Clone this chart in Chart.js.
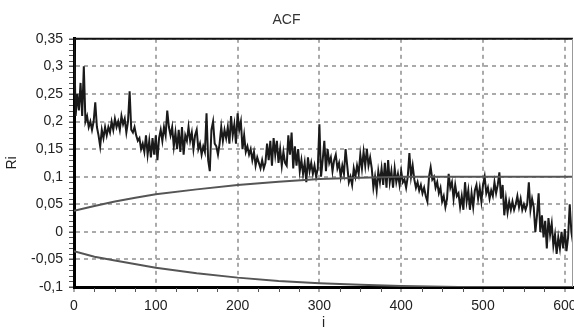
<!DOCTYPE html>
<html>
<head>
<meta charset="utf-8">
<script src="https://cdn.jsdelivr.net/npm/chart.js@4"></script>
<style>
  html, body { margin: 0; padding: 0; background: #fff; }
  #wrap { width: 574px; height: 332px; }
</style>
</head>
<body>
<div id="wrap"><canvas id="acfChart" width="574" height="332"></canvas></div>
<script>
// ACF values, one every 2 lags (i = 0, 2, 4, ... 610)
const lagStep = 2;
const acfValues = [
  0.36, 0.21, 0.25, 0.22, 0.27, 0.21, 0.30, 0.20, 0.21, 0.19,
  0.20, 0.185, 0.20, 0.235, 0.19, 0.175, 0.155, 0.185, 0.17, 0.19,
  0.175, 0.19, 0.18, 0.20, 0.185, 0.205, 0.19, 0.20, 0.185, 0.21,
  0.195, 0.205, 0.18, 0.20, 0.255, 0.185, 0.18, 0.19, 0.175, 0.165,
  0.17, 0.15, 0.16, 0.145, 0.175, 0.14, 0.165, 0.135, 0.17, 0.14,
  0.175, 0.13, 0.17, 0.185, 0.165, 0.19, 0.175, 0.22, 0.19, 0.175,
  0.19, 0.155, 0.18, 0.15, 0.185, 0.145, 0.19, 0.14, 0.175, 0.165,
  0.19, 0.165, 0.18, 0.15, 0.175, 0.185, 0.15, 0.16, 0.14, 0.155,
  0.145, 0.215, 0.13, 0.11, 0.185, 0.20, 0.16, 0.155, 0.14, 0.16,
  0.19, 0.165, 0.185, 0.17, 0.19, 0.16, 0.21, 0.175, 0.195, 0.16,
  0.215, 0.185, 0.20, 0.15, 0.175, 0.145, 0.155, 0.14, 0.15, 0.13,
  0.145, 0.12, 0.135, 0.125, 0.115, 0.13, 0.115, 0.125, 0.16, 0.13,
  0.165, 0.12, 0.17, 0.14, 0.165, 0.125, 0.15, 0.12, 0.145, 0.125,
  0.12, 0.175, 0.14, 0.18, 0.115, 0.155, 0.12, 0.15, 0.11, 0.13,
  0.105, 0.125, 0.09, 0.135, 0.11, 0.125, 0.105, 0.12, 0.10, 0.115,
  0.195, 0.10, 0.13, 0.165, 0.11, 0.15, 0.125, 0.135, 0.11, 0.13,
  0.14, 0.115, 0.125, 0.10, 0.12, 0.105, 0.15, 0.12, 0.09, 0.10,
  0.085, 0.115, 0.10, 0.12, 0.105, 0.14, 0.115, 0.145, 0.12, 0.15,
  0.12, 0.135, 0.115, 0.08, 0.10, 0.075, 0.11, 0.09, 0.115, 0.085,
  0.125, 0.08, 0.13, 0.09, 0.11, 0.08, 0.115, 0.09, 0.105, 0.085,
  0.11, 0.09, 0.095, 0.08, 0.10, 0.143, 0.10, 0.12, 0.095, 0.08,
  0.09, 0.075, 0.085, 0.07, 0.08, 0.065, 0.055, 0.10, 0.117, 0.095,
  0.10, 0.08, 0.09, 0.07, 0.08, 0.055, 0.065, 0.045, 0.06, 0.105,
  0.08, 0.09, 0.06, 0.085, 0.065, 0.07, 0.045, 0.065, 0.04, 0.09,
  0.055, 0.075, 0.04, 0.07, 0.045, 0.075, 0.085, 0.06, 0.08, 0.055,
  0.085, 0.10, 0.07, 0.08, 0.06, 0.075, 0.065, 0.09, 0.07, 0.085,
  0.108, 0.06, 0.085, 0.03, 0.06, 0.035, 0.055, 0.04, 0.055, 0.04,
  0.05, 0.065, 0.045, 0.06, 0.04, 0.05, 0.04, 0.05, 0.09, 0.04,
  0.06, 0.045, 0.0, 0.03, 0.07, 0.0, 0.03, -0.01, 0.02, -0.03,
  0.025, -0.005, 0.015, -0.025, -0.005, -0.04, -0.01, -0.03, 0.0, -0.03,
  0.005, -0.035, -0.01, 0.05, 0.0, -0.02
];

// Confidence bounds
const upperLags = [0, 25, 50, 75, 100, 150, 200, 250, 300, 350, 400, 610];
const upperValues = [0.038, 0.047, 0.055, 0.062, 0.068, 0.077, 0.085, 0.091, 0.096, 0.098, 0.1, 0.1];
const lowerLags = [0, 25, 50, 100, 150, 200, 250, 300, 350, 400, 470, 610];
const lowerValues = [-0.035, -0.045, -0.052, -0.065, -0.075, -0.083, -0.089, -0.093, -0.096, -0.098, -0.1, -0.1];

const xTicks = [0, 100, 200, 300, 400, 500, 600];
const yTicks = [-0.1, -0.05, 0, 0.05, 0.1, 0.15, 0.2, 0.25, 0.3, 0.35];

const FONT = "'Liberation Sans', Arial, sans-serif";

function fmtComma(v) {
  return String(Math.round(v * 100) / 100).replace('.', ',');
}

// frame + small minor ticks like the original plot
const framePlugin = {
  id: 'frame',
  afterDraw(chart) {
    const { ctx, chartArea: a, scales } = chart;
    ctx.save();
    ctx.strokeStyle = '#111';
    ctx.lineWidth = 2;
    ctx.beginPath();
    ctx.moveTo(a.left, a.top);
    ctx.lineTo(a.right, a.top);
    ctx.stroke();
    ctx.strokeStyle = '#999';
    ctx.lineWidth = 1;
    ctx.beginPath();
    ctx.moveTo(a.right - 0.5, a.top);
    ctx.lineTo(a.right - 0.5, a.bottom);
    ctx.stroke();

    ctx.strokeStyle = '#555';
    ctx.lineWidth = 1;
    ctx.beginPath();
    for (let v = 25; v < 610; v += 25) {
      if (v % 100 === 0) continue;
      const x = Math.round(scales.x.getPixelForValue(v)) + 0.5;
      ctx.moveTo(x, a.bottom + 1);
      ctx.lineTo(x, a.bottom + 5);
    }
    for (let k = -10; k <= 35; k++) {
      const y = Math.round(scales.y.getPixelForValue(k / 100)) + 0.5;
      ctx.moveTo(a.left - 5, y);
      ctx.lineTo(a.left - 1, y);
    }
    ctx.stroke();
    ctx.restore();
  }
};

const acfPoints = acfValues.map((v, k) => ({ x: k * lagStep, y: v }));
const upperPoints = upperLags.map((x, k) => ({ x: x, y: upperValues[k] }));
const lowerPoints = lowerLags.map((x, k) => ({ x: x, y: lowerValues[k] }));

new Chart(document.getElementById('acfChart'), {
  type: 'line',
  data: {
    datasets: [
      {
        label: 'upper',
        data: upperPoints,
        borderColor: '#555',
        borderWidth: 2,
        pointRadius: 0,
        tension: 0
      },
      {
        label: 'lower',
        data: lowerPoints,
        borderColor: '#555',
        borderWidth: 2,
        pointRadius: 0,
        tension: 0
      },
      {
        label: 'ACF',
        data: acfPoints,
        borderColor: '#1a1a1a',
        borderWidth: 2,
        pointRadius: 0,
        tension: 0
      }
    ]
  },
  options: {
    responsive: false,
    animation: false,
    layout: { padding: { left: 0, right: 1, top: 0, bottom: 0 } },
    plugins: {
      legend: { display: false },
      tooltip: { enabled: false },
      title: {
        display: true,
        text: 'ACF',
        color: '#333',
        font: { family: FONT, size: 14, weight: 'normal' },
        padding: { top: 12, bottom: 10 }
      }
    },
    scales: {
      x: {
        type: 'linear',
        min: 0,
        max: 610,
        afterBuildTicks: scale => {
          scale.ticks = xTicks.map(v => ({ value: v }));
        },
        afterFit: scale => {
          scale.height = 45;
          // let the "600" label run off the edge like the original
          scale.paddingRight = 0;
          scale.paddingLeft = 0;
        },
        ticks: {
          color: '#222',
          font: { family: FONT, size: 14 },
          padding: 6,
          maxRotation: 0,
          callback: v => String(v)
        },
        grid: {
          color: '#aaa',
          tickColor: '#aaa',
          tickLength: 5,
          lineWidth: 2,
          tickBorderDash: [4, 4]
        },
        border: { color: '#000', width: 3, dash: [4, 4] },
        title: {
          display: true,
          text: 'i',
          color: '#222',
          font: { family: FONT, size: 14 },
          padding: { top: 0, bottom: 0 }
        }
      },
      y: {
        min: -0.1,
        max: 0.35,
        afterBuildTicks: scale => {
          scale.ticks = yTicks.map(v => ({ value: v }));
        },
        afterFit: scale => { scale.width = 74; },
        ticks: {
          color: '#222',
          font: { family: FONT, size: 14 },
          padding: 6,
          callback: v => fmtComma(v)
        },
        grid: {
          color: '#aaa',
          tickColor: '#aaa',
          tickLength: 5,
          lineWidth: 2
        },
        border: { color: '#000', width: 3, dash: [4, 4] },
        title: {
          display: true,
          text: 'Ri',
          color: '#222',
          font: { family: FONT, size: 14 },
          padding: { top: 4, bottom: 0 }
        }
      }
    }
  },
  plugins: [framePlugin]
});
</script>
</body>
</html>
